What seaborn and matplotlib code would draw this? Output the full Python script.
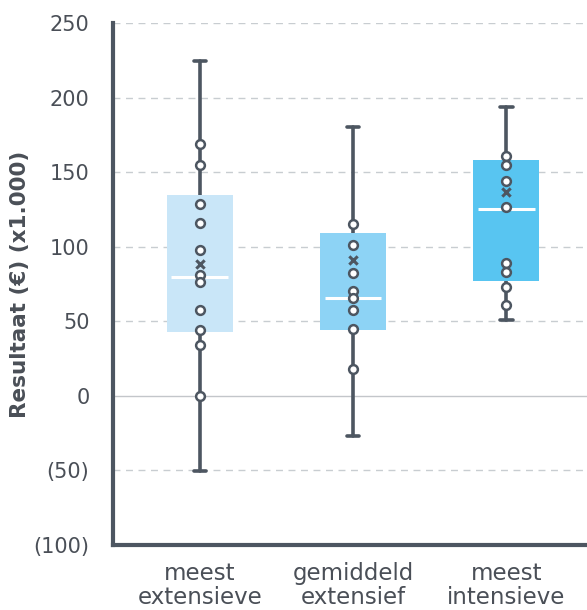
import numpy as np
import pandas as pd
import matplotlib
matplotlib.use("Agg")
import matplotlib.pyplot as plt
import seaborn as sns
from matplotlib.ticker import FuncFormatter

# Categories and summary statistics (x1.000 EUR)
categories = ["meest\nextensieve", "gemiddeld\nextensief", "meest\nintensieve"]
q1 = [42.5, 44.3, 77.0]
medians = [80.0, 65.7, 125.6]
q3 = [135.0, 108.9, 158.3]
whisker_low = [-50.3, -27.2, 50.8]
whisker_high = [224.4, 180.1, 193.9]
means = [88.6, 90.8, 136.5]

# Individual observations per group
points_ext = [168.8, 155.0, 128.3, 115.8, 97.5, 81.0, 76.4, 57.4, 44.3, 34.3, 0.2]
points_mid = [114.9, 100.9, 82.6, 70.4, 65.5, 57.4, 44.5, 18.2]
points_int = [160.5, 155.0, 143.8, 126.5, 88.8, 83.0, 73.3, 60.8]

box_colors = ["#C9E6F8", "#8DD3F5", "#58C5F1"]
dark = "#4D5661"
text_color = "#4A4F57"

sns.set_style("white")
plt.rcParams["font.family"] = ["DejaVu Sans"]

fig = plt.figure(figsize=(5.87, 6.10), dpi=100)
ax = fig.add_axes([0.1925, 0.1066, 0.8075, 0.8557])

# Grid lines
for y in [-50, 50, 100, 150, 200, 250]:
    ax.axhline(y, color="#C8CDD1", lw=1, ls=(0, (5, 4)), zorder=0)
ax.axhline(0, color="#C3C6CA", lw=1, zorder=0)

# Boxes from the summary stats
stats = []
for i in range(len(categories)):
    stats.append({
        "med": medians[i], "q1": q1[i], "q3": q3[i],
        "whislo": whisker_low[i], "whishi": whisker_high[i],
        "mean": means[i], "fliers": [],
    })
bp = ax.bxp(stats, positions=[0, 1, 2], widths=0.43, patch_artist=True,
            showfliers=False, showmeans=False, capwidths=0.08,
            boxprops=dict(linewidth=0),
            whiskerprops=dict(color=dark, linewidth=2.6),
            capprops=dict(color=dark, linewidth=2.6),
            medianprops=dict(linewidth=0, color="none"),
            manage_ticks=False)
for patch, c in zip(bp["boxes"], box_colors):
    patch.set_facecolor(c)
    patch.set_zorder(2)
for w in bp["whiskers"] + bp["caps"]:
    w.set_zorder(1.5)

# Medians (narrower than the box)
ax.hlines(medians, np.arange(3) - 0.185, np.arange(3) + 0.185,
          color="white", lw=2.2, zorder=3)

# Individual points
df = pd.DataFrame({
    "group": [categories[0]] * len(points_ext) + [categories[1]] * len(points_mid)
             + [categories[2]] * len(points_int),
    "value": points_ext + points_mid + points_int,
})
sns.stripplot(data=df, x="group", y="value", order=categories, jitter=False,
              color="white", edgecolor=dark, linewidth=1.8, size=6.3,
              ax=ax, zorder=4)

# Means
sns.scatterplot(x=[0, 1, 2], y=means, marker="x", color=dark, s=36,
                linewidth=2.2, ax=ax, zorder=4)

ax.set_xlim(-0.565, 2.525)
ax.set_ylim(-100, 250)
ax.set_yticks(np.arange(-100, 251, 50))
ax.yaxis.set_major_formatter(FuncFormatter(
    lambda v, p: f"({abs(int(v))})" if v < 0 else f"{int(v)}"))
ax.set_xticks([0, 1, 2])
ax.set_xticklabels(categories, fontsize=16.5, linespacing=1.05)
ax.set_xlabel("")
ax.set_ylabel("Resultaat (€) (x1.000)", fontsize=15.5, fontweight="bold",
              color=text_color)
ax.yaxis.set_label_coords(-0.175, 0.5)

for side in ["top", "right"]:
    ax.spines[side].set_visible(False)
for side in ["left", "bottom"]:
    ax.spines[side].set_color(dark)
    ax.spines[side].set_linewidth(3)
ax.tick_params(axis="both", colors=dark, width=3, length=7, direction="out",
               labelcolor=text_color)
ax.tick_params(axis="y", pad=10, labelsize=15)
ax.tick_params(axis="x", pad=5)

fig.savefig("out.png", dpi=100)
